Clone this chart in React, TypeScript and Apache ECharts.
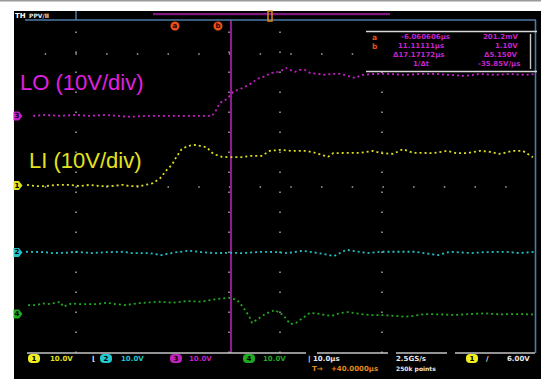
import React, { useEffect, useRef } from "react";
import * as echarts from "echarts";

// Time base: 10.0 µs/div, 10 divisions; vertical: 10 V/div, 10 divisions
const timeRange = [0, 100];
const divRange = [0, 10];
const voltsPerDiv = 10;

// Channel 3 (LO) - magenta
const loTime = [1.6, 3.9, 6.9, 9.8, 12.7, 15.7, 18.2, 20.6, 23.5, 26.5, 29.4, 32.4, 34.9, 36.7, 37.5, 38.2, 39.6, 40.8, 42.2, 43.5, 44.5, 45.5, 46.7, 47.5, 48.4, 49.6, 50.6, 51.2, 52.0, 52.9, 53.9, 54.9, 55.9, 57.5, 58.8, 60.2, 61.8, 63.3, 64.7, 66.1, 68.6, 71.6, 74.5, 77.5, 80.4, 83.3, 86.3, 89.2, 92.2, 95.1, 98.0, 100];
const loVolts = [0, 0.3, 0, 0.3, 0, 0.3, 0, -0.3, 0, 0, 0, 0, 0, 0, 1.8, 3.9, 5.1, 7.2, 8.1, 9.0, 9.9, 11.1, 11.7, 12.3, 12.9, 13.2, 13.8, 14.4, 13.8, 13.2, 13.8, 13.8, 12.9, 12.6, 12.3, 12.6, 12.6, 12.0, 11.4, 12.3, 12.6, 12.6, 12.3, 12.6, 12.6, 12.3, 12.0, 12.6, 12.3, 12.6, 12.3, 12.6];

// Channel 1 (LI) - yellow
const liTime = [0.4, 2.0, 3.9, 6.5, 8.8, 10.8, 12.7, 14.7, 16.7, 19.2, 20.6, 22.5, 25.1, 26.5, 27.8, 28.8, 29.7, 30.7, 32.0, 33.3, 34.3, 35.6, 36.9, 38.6, 40.8, 42.7, 44.1, 46.4, 48.0, 50.0, 52.3, 55.2, 56.9, 59.4, 60.4, 63.1, 65.7, 68.2, 69.9, 72.2, 74.1, 76.1, 78.0, 80.0, 82.7, 84.6, 86.6, 89.2, 91.2, 93.1, 95.7, 97.6, 99.6];
const liVolts = [0.2, -0.2, -0.2, 0.2, 0.2, -0.2, 0.2, -0.2, -0.2, 0.2, -0.2, -0.2, 0.7, 2.2, 4.7, 6.2, 8.6, 10.9, 11.9, 12.2, 11.9, 11.5, 9.5, 8.6, 8.5, 8.5, 8.9, 8.9, 10.4, 10.7, 10.4, 10.4, 9.8, 8.6, 9.7, 9.8, 9.8, 10.4, 9.7, 9.5, 10.9, 9.8, 9.8, 9.7, 10.4, 9.7, 9.7, 10.4, 10.1, 9.5, 10.4, 10.4, 8.5];

// Channel 2 - cyan
const ch2Time = [0.2, 3.9, 5.3, 8.0, 10.0, 13.1, 16.2, 19.2, 20.9, 24.3, 26.7, 29.0, 32.1, 34.5, 37.2, 40.2, 42.6, 46.7, 49.4, 51.5, 54.5, 57.6, 60.6, 63.0, 67.1, 69.8, 73.1, 76.6, 81.0, 83.3, 87.5, 90.2, 94.3, 97.0, 100];
const ch2Volts = [0.2, 0.1, -0.2, -0.1, 0.2, -0.2, 0.1, 0.2, -0.2, -0.2, -0.8, -0.1, 0.5, 0.1, -0.2, -0.1, -0.2, 0.2, 0.1, -0.2, 0.5, -0.2, -1.1, 0.8, -0.2, 0.2, 0.2, 0.2, -0.8, 0.2, -0.2, 0.1, 0.2, -0.2, 0.2];

// Channel 4 - green
const ch4Time = [0.6, 2.3, 3.6, 4.9, 6.9, 7.5, 9.2, 10.4, 12.4, 14.3, 16.0, 17.6, 19.6, 22.5, 26.3, 29.0, 31.8, 34.5, 37.2, 39.9, 41.6, 42.7, 44.0, 44.5, 47.1, 49.0, 50.6, 52.0, 53.1, 53.9, 55.9, 57.8, 60.0, 61.8, 63.3, 64.9, 67.6, 70.2, 72.9, 74.5, 75.9, 78.4, 81.4, 84.3, 87.3, 90.2, 93.1, 96.1, 99.6];
const ch4Volts = [2.7, 2.7, 3.2, 3.0, 3.7, 2.2, 3.2, 3.0, 3.0, 3.0, 3.4, 3.0, 2.7, 3.3, 3.7, 3.4, 3.9, 3.7, 4.4, 4.9, 4.2, 2.2, -0.8, -2.7, 0, 1.2, -0.3, -3.0, -2.7, -1.8, 0.4, 0, -0.6, 0.3, 0.6, 0.2, -0.3, -0.3, -0.6, -0.8, -0.6, 0, -0.1, -0.3, 0, 0.2, -0.1, 0, -0.1];

// Cursor (time, µs)
const cursorTime = 40.4;

// Graticule dotted lines (division indices)
const dotColumns = [10, 40, 50, 70];
const dotRows = [9, 5];

const channels = [
  { name: "LO", num: "3", time: loTime, volts: loVolts, color: "#c81ec8", offset: 7.12 },
  { name: "LI", num: "1", time: liTime, volts: liVolts, color: "#dede1c", offset: 5.03 },
  { name: "CH2", num: "2", time: ch2Time, volts: ch2Volts, color: "#22c2c8", offset: 3.02 },
  { name: "CH4", num: "4", time: ch4Time, volts: ch4Volts, color: "#1faa1f", offset: 1.17 },
];

const UI = "DejaVu Sans";

export default function App() {
  const ref = useRef<HTMLDivElement>(null);
  useEffect(() => {
    if (!ref.current) return;
    const chart = echarts.init(ref.current, undefined, { renderer: "svg" });

    const series: any[] = channels.map((ch, idx) => ({
      name: ch.name,
      type: "line",
      showSymbol: false,
      silent: true,
      z: 5,
      data: ch.time.map((t, i) => [t, ch.offset + ch.volts[i] / voltsPerDiv]),
      lineStyle: { color: ch.color, width: 1.8, type: [2, 3] },
      markPoint: {
        silent: true,
        symbol: "path://M0,0 L6,0 L10,5 L6,10 L0,10 Z",
        symbolSize: [9, 9],
        symbolOffset: [-7, 0],
        itemStyle: { color: ch.color },
        label: { show: true, formatter: ch.num, color: "#000", fontSize: 7, fontFamily: UI, fontWeight: "bold", offset: [-1, 0] },
        data: [{ coord: [timeRange[0], ch.offset] }],
      },
    }));

    // graticule + cursor helper
    series.push({
      type: "line",
      data: [],
      silent: true,
      z: 1,
      markLine: {
        silent: true,
        symbol: ["none", "none"],
        label: { show: false },
        animation: false,
        data: [
          ...dotColumns.map((c) => ({ xAxis: c, lineStyle: { color: "#a8a8a8", width: 1.5, type: [1.5, 18.5] } })),
          ...dotRows.map((r) => ({ yAxis: r, lineStyle: { color: "#a8a8a8", width: 1.5, type: [1.5, 29.2], dashOffset: 10.7 } })),
        ],
      },
    });
    series.push({
      type: "line",
      data: [],
      silent: true,
      z: 3,
      markLine: {
        silent: true,
        symbol: ["none", "none"],
        label: { show: false },
        animation: false,
        data: [{ xAxis: cursorTime, lineStyle: { color: "#8e1c8e", width: 2, type: "solid" } }],
      },
    });

    const txt = (x: number, y: number, text: string, fill: string, size = 7, extra: any = {}) => ({
      type: "text",
      x,
      y,
      z: 50,
      style: { text, fill, fontSize: size, fontFamily: UI, fontWeight: "bold", ...extra },
    });
    const badge = (x: number, y: number, label: string, fill: string) => ({
      type: "group",
      x,
      y,
      z: 50,
      children: [
        { type: "rect", shape: { x: 0, y: 0, width: 12, height: 9, r: 4 }, style: { fill } },
        { type: "text", x: 6, y: 4.5, style: { text: label, fill: "#000", fontSize: 7, fontFamily: UI, fontWeight: "bold", align: "center", verticalAlign: "middle" } },
      ],
    });
    const hline = (x1: number, x2: number, y: number, stroke: string, w = 1.5) => ({
      type: "line", z: 40, shape: { x1, y1: y, x2, y2: y }, style: { stroke, lineWidth: w },
    });
    const vline = (x: number, y1: number, y2: number, stroke: string, w = 1.5) => ({
      type: "line", z: 40, shape: { x1: x, y1, x2: x, y2 }, style: { stroke, lineWidth: w },
    });

    const magentaTxt = "#c424c4";
    const graphic: any[] = [
      { type: "rect", z: -100, shape: { x: 14, y: 11, width: 527, height: 368 }, style: { fill: "#000" } },
      { type: "rect", z: -100, shape: { x: 0, y: 0, width: 541, height: 1.5 }, style: { fill: "#9a9a9a" } },
      // header
      txt(15, 12, "TH", "#fff", 7),
      txt(29, 12.5, "PPV/II", "#e8e8e8", 6),
      vline(76, 11, 20, "#4d7aa6"),
      { type: "rect", z: 40, shape: { x: 153, y: 13, width: 237, height: 2.2 }, style: { fill: "#7e1a7e" } },
      { type: "rect", z: 41, shape: { x: 268, y: 11, width: 4, height: 10 }, style: { fill: "none", stroke: "#e08a1a", lineWidth: 1.5 } },
      hline(25, 536, 20, "#4d7aa6", 1.6),
      vline(535.5, 20, 353, "#4d7aa6", 1.6),
      // cursor markers
      { type: "circle", z: 45, shape: { cx: 175, cy: 26, r: 4.5 }, style: { fill: "#e8501a" } },
      txt(172.5, 22, "a", "#300", 7),
      { type: "circle", z: 45, shape: { cx: 218, cy: 26, r: 4.5 }, style: { fill: "#e8501a" } },
      txt(215.5, 22, "b", "#300", 7),
      // measurement box
      { type: "rect", z: 39, shape: { x: 366, y: 31, width: 171, height: 41 }, style: { fill: "#000" } },
      hline(366, 537, 31.5, "#d8d8d8", 1.6),
      hline(366, 537, 71.5, "#d8d8d8", 1.6),
      vline(530.5, 34, 69, "#c8c8c8", 1.4),
      txt(372, 33, "a", "#e8501a", 7.5),
      txt(372, 42.5, "b", "#e8501a", 7.5),
      txt(401, 33, "-6.060606µs", magentaTxt, 7),
      txt(483, 33, "201.2mV", magentaTxt, 7),
      txt(398, 42.5, "11.11111µs", magentaTxt, 7),
      txt(495, 42.5, "1.10V", magentaTxt, 7),
      txt(393, 51.5, "Δ17.17172µs", magentaTxt, 7),
      txt(484, 51.5, "Δ5.150V", magentaTxt, 7),
      txt(413, 60.5, "1/Δt", magentaTxt, 7),
      txt(478, 60.5, "-35.85V/µs", magentaTxt, 7),
      // bottom info bar
      hline(27, 306, 353, "#c4c4c4"),
      hline(317, 388, 353, "#c4c4c4"),
      hline(396, 447, 353, "#c4c4c4"),
      hline(455, 535, 353, "#c4c4c4"),
      badge(28, 354, "1", "#f0f020"),
      txt(50, 355, "10.0V", "#e0e020"),
      txt(92, 355, "⌊", "#dddddd"),
      badge(100, 354, "2", "#22c8d0"),
      txt(121, 355, "10.0V", "#22c2c8"),
      badge(170, 354, "3", "#c020c0"),
      txt(189, 355, "10.0V", "#c020c0"),
      badge(243, 354, "4", "#20a820"),
      txt(263, 355, "10.0V", "#20a820"),
      txt(308, 355, "| 10.0µs", "#e8e8e8"),
      txt(312, 365, "T→", "#e08a1a"),
      txt(331, 365, "+40.0000µs", "#e08a1a"),
      txt(396, 355, "2.5GS/s", "#e8e8e8"),
      txt(396, 365, "250k points", "#e8e8e8", 6),
      badge(466, 354, "1", "#f0f020"),
      txt(486, 355, "/", "#e8e8e8"),
      txt(507, 355, "6.00V", "#e8e8e8"),
      // annotation labels
      { type: "text", z: 60, x: 20, y: 93, style: { text: "LO (10V/div)", fill: "#e020e0", fontSize: 22, fontFamily: "Liberation Sans", verticalAlign: "bottom" } },
      { type: "text", z: 60, x: 29, y: 171, style: { text: "LI (10V/div)", fill: "#e4e41e", fontSize: 22, fontFamily: "Liberation Sans", verticalAlign: "bottom" } },
    ];

    chart.setOption({
      animation: false,
      backgroundColor: "#ffffff",
      grid: { left: 25, top: 20, right: 6, bottom: 26 },
      xAxis: {
        type: "value",
        min: timeRange[0],
        max: timeRange[1],
        interval: 10,
        axisLine: { show: false },
        axisTick: { show: false },
        axisLabel: { show: false },
        splitLine: { show: false },
      },
      yAxis: {
        type: "value",
        min: divRange[0],
        max: divRange[1],
        interval: 1,
        axisLine: { show: false },
        axisTick: { show: false },
        axisLabel: { show: false },
        splitLine: { show: false },
      },
      series,
      graphic,
    });
    return () => chart.dispose();
  }, []);
  return <div ref={ref} style={{ position: "fixed", left: 0, top: 0, width: 541, height: 379 }} />;
}
